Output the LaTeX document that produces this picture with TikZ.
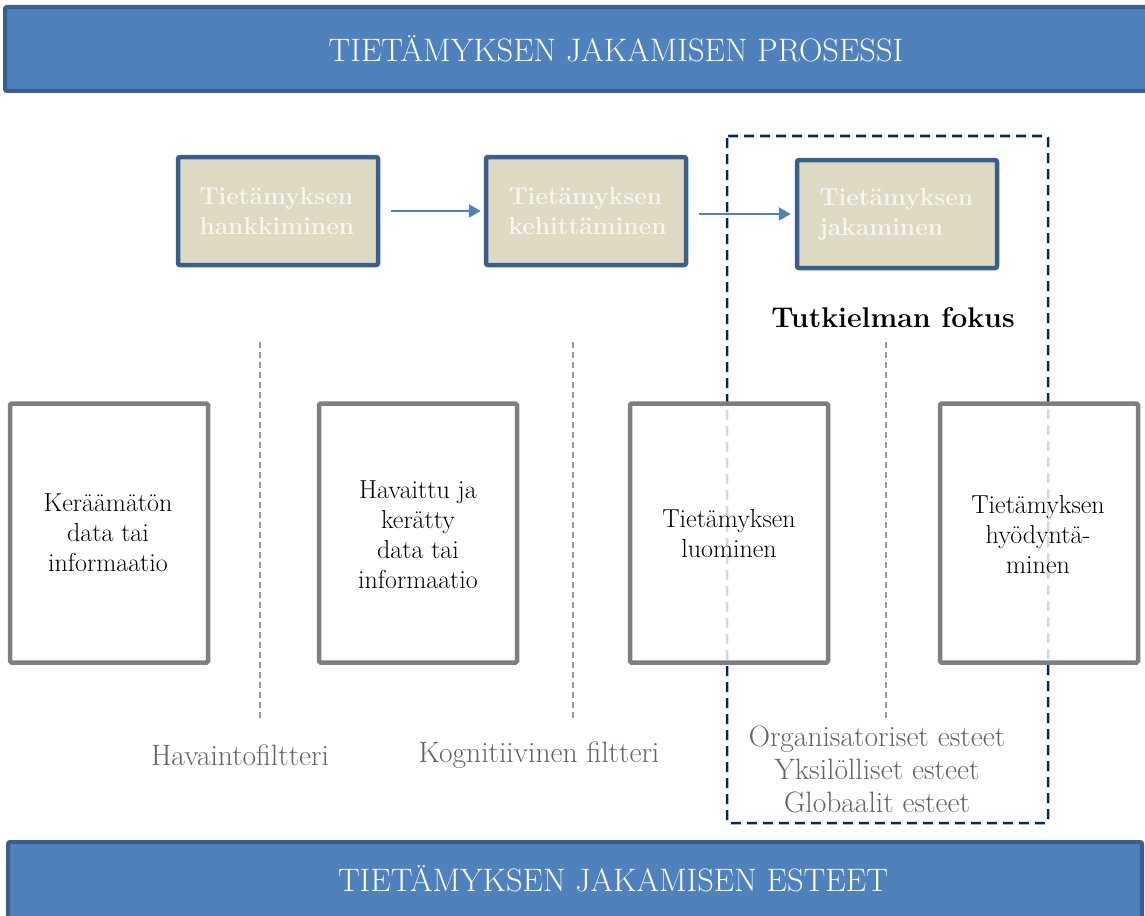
\documentclass[tikz,border=0pt]{standalone}
\usetikzlibrary{arrows.meta}
\definecolor{bannerfill}{HTML}{4F81BD}
\definecolor{bannerline}{HTML}{3A5F8C}
\definecolor{tanfill}{HTML}{DDD9C3}
\definecolor{tanline}{HTML}{3A5F8C}
\definecolor{navy}{HTML}{0B2560}
\definecolor{boxgrey}{HTML}{7F7F7F}
\definecolor{txtgrey}{HTML}{626262}
\definecolor{tantext}{HTML}{F7F5EE}
\begin{document}
\begin{tikzpicture}[x=1pt,y=-1pt,
  banner/.style={draw=bannerline,fill=bannerfill,line width=4pt,rounded corners=2pt},
  bannertext/.style={text=white,font=\fontsize{32.5}{36}\selectfont},
  tanbox/.style={draw=tanline,fill=tanfill,line width=4.5pt,rounded corners=2pt,minimum width=200pt,minimum height=108pt,inner sep=0pt},
  tantxt/.style={text=tantext,font=\bfseries\fontsize{24.5}{30}\selectfont,align=left},
  whitebox/.style={draw=boxgrey,fill=white,fill opacity=0.82,line width=4.5pt,rounded corners=1.5pt,minimum width=198pt,minimum height=259pt,inner sep=0pt},
  boxtxt/.style={text=black,font=\fontsize{26}{30}\selectfont,align=center},
  greytxt/.style={text=txtgrey,font=\fontsize{29.5}{33}\selectfont,align=center},
  filterline/.style={draw=gray!80,line width=1.3pt,dash pattern=on 6pt off 4pt},
  focusline/.style={draw=navy,line width=2.5pt,dash pattern=on 10pt off 6pt},
  flow/.style={draw=bannerfill,line width=2.5pt,-{Triangle[length=12pt,width=13pt]}}
]
\useasboundingbox (0,0) rectangle (1145,915);

% banners
\draw[banner] (5,7) rectangle (1170,91);
\node[bannertext] (toptitle) at (616,49) {TIETÄMYKSEN JAKAMISEN PROSESSI};
\draw[banner] (8,842) rectangle (1142,930);
\node[bannertext] (bottitle) at (613,879) {TIETÄMYKSEN JAKAMISEN ESTEET};

% focus frame
\draw[focusline,rounded corners=2pt] (727,136) rectangle (1048,823);

% filter lines
\coordinate (f1t) at (260,342); \coordinate (f1b) at (260,720);
\coordinate (f2t) at (573,342); \coordinate (f2b) at (573,720);
\coordinate (f3t) at (886,342); \coordinate (f3b) at (886,720);
\draw[filterline] (f1t) -- (f1b);
\draw[filterline] (f2t) -- (f2b);
\draw[filterline] (f3t) -- (f3b);

% top process boxes
\node[tanbox] (p1) at (278,211) {};
\node[tantxt,anchor=west] (p1t) at (196,211) {Tietämyksen\\hankkiminen};
\node[tanbox] (p2) at (586,211) {};
\node[tantxt,anchor=west] (p2t) at (505,211) {Tietämyksen\\kehittäminen};
\node[tanbox] (p3) at (897,214) {};
\node[tantxt,anchor=west] (p3t) at (816,214) {Tietämyksen\\jakaminen};

\draw[flow,shorten <=11pt,shorten >=3pt] (p1.east) -- (p2.west);
\draw[flow,shorten <=11pt,shorten >=4pt] (p2.east |- p3.west) -- (p3.west);

\node[font=\bfseries\fontsize{28.5}{32}\selectfont] (focus) at (893,318) {Tutkielman fokus};

% lower boxes
\node[whitebox] (a) at (109,533) {};
\node[boxtxt] (at) at (108,533) {Keräämätön\\data tai\\informaatio};
\node[whitebox] (b) at (418,533) {};
\node[boxtxt] (bt) at (418,535) {Havaittu ja\\kerätty\\data tai\\informaatio};
\node[whitebox] (c) at (729,533) {};
\node[boxtxt] (ct) at (729,534) {Tietämyksen\\luominen};
\node[whitebox] (d) at (1039,533) {};
\node[boxtxt] (dt) at (1038,535) {Tietämyksen\\hyödyntä-\\minen};

% labels
\node[greytxt] (l1) at (240,755) {Havaintofiltteri};
\node[greytxt] (l2) at (539,755) {Kognitiivinen filtteri};
\node[greytxt] (l3) at (877,769) {Organisatoriset esteet\\Yksilölliset esteet\\Globaalit esteet};
\end{tikzpicture}
\end{document}
